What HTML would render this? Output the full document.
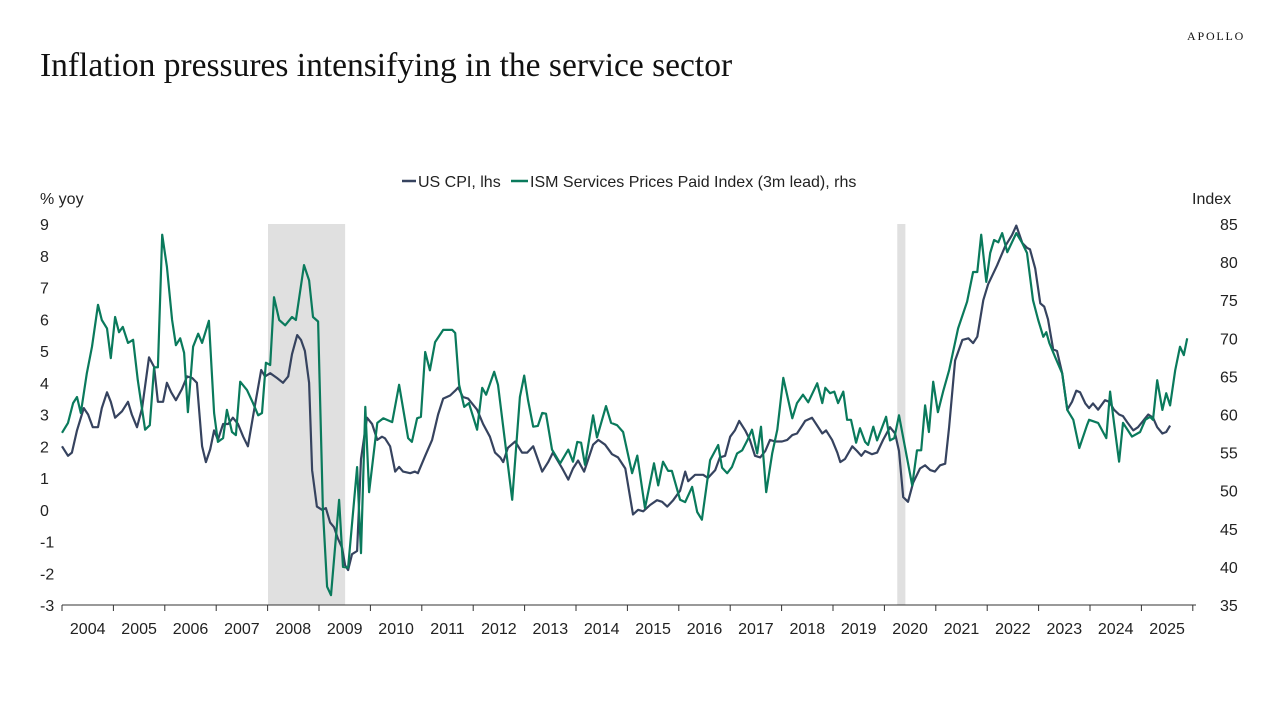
<!DOCTYPE html>
<html><head><meta charset="utf-8">
<style>
html,body{margin:0;padding:0;background:#fff;}
body{width:1280px;height:719px;overflow:hidden;position:relative;font-family:"Liberation Sans",sans-serif;}
.t{position:absolute;}
</style></head>
<body>
<div class="t" style="left:1187px;top:29px;font-family:'Liberation Serif',serif;font-size:12px;letter-spacing:1.8px;color:#111;">APOLLO</div>
<div class="t" style="left:40px;top:47px;font-family:'Liberation Serif',serif;font-size:33.5px;color:#111;">Inflation pressures intensifying in the service sector</div>
<svg id="chart" width="1280" height="719" style="position:absolute;left:0;top:0" xmlns="http://www.w3.org/2000/svg"></svg>
<script>
// months since Jan 2004
const cpiMonth=[0,1.4,2.3,3.5,5.1,6.1,7.2,8.4,9.3,10.5,11.4,12.4,14.0,15.4,16.3,17.5,18.7,20.3,21.5,22.4,23.6,24.5,25.5,26.6,28.0,29.2,30.4,31.5,32.7,33.6,34.6,35.5,36.4,37.6,38.8,39.9,41.1,42.3,43.4,44.8,46.5,47.4,48.6,50.2,51.6,52.8,53.7,54.9,55.8,56.7,57.7,58.4,59.5,60.7,61.6,62.6,63.5,64.4,65.4,66.1,66.8,67.7,68.9,69.8,71.2,72.4,73.6,74.7,75.4,76.6,77.8,78.7,79.6,81.3,82.4,83.1,84.8,86.4,87.8,89.0,90.6,91.8,92.5,93.6,94.8,96.9,98.3,99.9,101.1,102.3,103.0,104.1,105.8,107.4,108.6,110.0,112.1,113.5,114.6,116.8,118.2,119.3,120.5,121.9,124.0,125.2,126.8,128.4,129.8,131.5,133.3,134.5,135.7,137.3,138.9,140.1,141.3,142.7,144.3,145.5,146.2,147.8,149.7,150.8,152.5,153.6,154.8,156.0,157.1,158.1,159.5,160.6,161.8,163.0,164.2,165.3,166.5,168.1,169.3,170.5,171.6,172.8,173.5,175.1,176.3,177.5,178.4,179.8,181.0,181.7,182.8,184.5,185.6,186.6,187.5,189.1,190.3,191.7,193.3,194.5,195.4,196.4,197.5,198.7,200.3,201.5,202.7,203.8,205.0,206.2,207.1,208.5,210.2,211.6,212.7,213.7,215.1,216.2,218.3,220.2,221.8,222.8,224.2,225.3,226.0,227.2,228.4,229.3,230.2,231.4,232.3,233.5,234.7,235.8,236.8,237.7,238.9,239.8,240.7,241.9,243.5,244.5,245.6,246.8,247.7,248.7,250.1,251.2,252.4,253.6,254.7,255.7,256.9,257.8,258.7];
const cpiValues=[2.0,1.7,1.8,2.5,3.2,3.0,2.6,2.6,3.2,3.7,3.4,2.9,3.1,3.4,3.0,2.6,3.2,4.8,4.5,3.4,3.4,4.0,3.7,3.45,3.8,4.2,4.15,4.0,2.0,1.5,1.9,2.5,2.2,2.7,2.7,2.9,2.7,2.3,2.0,3.1,4.4,4.2,4.3,4.15,4.0,4.2,4.9,5.5,5.35,5.0,4.0,1.25,0.1,0.0,0.05,-0.4,-0.55,-0.9,-1.2,-1.75,-1.9,-1.4,-1.3,1.6,2.9,2.7,2.2,2.3,2.25,2.0,1.2,1.35,1.2,1.15,1.2,1.15,1.7,2.2,3.0,3.5,3.6,3.75,3.85,3.55,3.5,3.15,2.7,2.3,1.8,1.65,1.5,1.95,2.15,1.8,1.8,2.0,1.2,1.5,1.8,1.3,0.95,1.3,1.55,1.2,2.05,2.2,2.05,1.75,1.65,1.3,-0.15,0.0,-0.05,0.15,0.3,0.25,0.1,0.3,0.6,1.2,0.9,1.1,1.1,1.0,1.25,1.65,1.7,2.3,2.5,2.8,2.5,2.2,1.7,1.65,1.85,2.2,2.15,2.15,2.2,2.35,2.4,2.65,2.8,2.9,2.65,2.4,2.5,2.2,1.8,1.5,1.6,2.0,1.85,1.7,1.85,1.75,1.8,2.2,2.6,2.4,1.85,0.4,0.25,0.85,1.3,1.4,1.25,1.2,1.4,1.45,2.6,4.7,5.35,5.4,5.25,5.45,6.6,7.1,7.7,8.3,8.65,8.95,8.4,8.25,8.2,7.6,6.5,6.4,6.0,5.05,5.0,4.3,3.15,3.4,3.75,3.7,3.35,3.2,3.35,3.15,3.45,3.4,3.15,3.0,2.95,2.75,2.5,2.6,2.8,3.0,2.9,2.6,2.4,2.45,2.65];
const ismMonth=[0,1.4,2.6,3.5,4.4,5.8,7.0,8.4,9.3,10.5,11.4,12.4,13.3,14.2,15.4,16.6,17.7,19.4,20.5,21.5,22.4,23.4,24.5,25.7,26.6,27.6,28.5,29.4,30.6,31.8,32.7,34.3,35.5,36.4,37.6,38.5,39.7,40.6,41.6,43.2,44.6,45.8,46.7,47.6,48.6,49.5,50.7,52.1,53.7,54.6,56.5,57.7,58.6,59.8,60.9,61.9,62.8,64.7,65.6,66.8,68.9,69.8,70.8,71.7,73.6,75.0,77.1,78.7,80.8,81.7,82.9,83.8,84.8,85.9,87.1,89.0,91.1,91.8,92.7,93.9,95.0,96.9,98.1,99.0,100.9,101.8,105.1,106.9,107.9,108.8,110.0,111.1,112.1,113.0,114.4,116.3,118.2,119.3,120.3,121.2,122.1,124.0,124.9,127.0,128.2,129.6,131.0,133.1,134.3,136.1,138.2,139.2,140.3,141.5,142.4,144.3,145.5,147.1,148.3,149.4,151.3,153.2,154.1,155.3,156.4,157.6,158.8,160.0,161.1,162.3,163.2,164.4,165.8,167.0,168.4,170.5,171.6,173.0,174.2,176.3,177.5,178.2,179.3,180.3,181.2,182.4,183.3,184.2,185.4,186.3,187.5,188.2,189.4,190.3,192.4,193.3,194.3,195.4,198.5,199.6,200.6,201.5,202.4,203.4,204.5,205.7,207.1,209.2,211.3,212.7,213.7,214.6,215.8,216.7,217.6,218.6,219.5,220.7,222.8,224.2,225.3,226.7,227.9,229.1,229.8,230.5,231.9,233.5,234.7,236.1,237.5,239.3,239.8,241.9,243.8,244.7,245.6,246.8,247.7,249.8,251.7,252.9,254.0,254.7,255.7,256.9,257.8,258.7,259.9,261.0,261.9,262.7];
const ismValues=[57.6,58.9,61.5,62.3,60.2,65.4,68.9,74.4,72.4,71.3,67.4,72.8,70.8,71.5,69.4,69.8,64.5,58.0,58.6,66.2,66.2,83.6,79.4,72.4,69.1,70.0,68.1,60.3,68.9,70.6,69.4,72.3,60.2,56.4,56.9,60.6,57.7,57.3,64.3,63.2,61.5,59.9,60.2,66.8,66.5,75.4,72.4,71.7,72.8,72.4,79.6,77.6,72.8,72.2,47.5,37.4,36.3,48.8,40.0,39.9,53.1,41.8,61.0,49.8,58.9,59.5,59.0,63.9,56.9,56.4,59.5,59.7,68.2,65.8,69.5,71.1,71.1,70.7,63.9,61.0,61.5,58.0,63.5,62.6,65.6,63.9,48.8,62.3,65.1,61.9,58.4,58.5,60.2,60.1,55.4,53.6,55.4,53.8,56.4,56.3,53.4,59.9,57.0,61.1,58.9,58.6,57.7,52.3,54.6,47.7,53.6,50.7,53.8,52.6,52.6,48.8,48.5,50.5,47.2,46.2,54.0,56.0,53.0,52.3,53.1,54.9,55.3,56.6,58.0,54.9,58.4,49.8,54.9,58.0,64.8,59.5,61.5,62.6,61.6,64.1,61.5,63.5,62.8,63.0,61.5,63.0,59.3,59.3,56.3,58.2,56.4,56.0,58.4,56.6,59.7,56.6,56.9,59.9,50.7,55.3,55.3,61.2,57.7,64.3,60.3,63.0,65.8,71.3,74.8,78.7,78.7,83.6,77.4,81.2,82.9,82.6,83.8,81.3,83.8,82.5,81.2,75.0,72.4,70.2,70.8,69.4,67.5,65.4,60.6,59.3,55.6,58.6,59.3,58.9,56.9,63.0,58.9,53.8,58.9,57.1,57.7,59.3,59.7,59.3,64.5,60.6,62.8,61.2,65.8,68.9,67.8,70.0];
const yearLabels=["2004","2005","2006","2007","2008","2009","2010","2011","2012","2013","2014","2015","2016","2017","2018","2019","2020","2021","2022","2023","2024","2025"];
const leftTicks=[9,8,7,6,5,4,3,2,1,0,-1,-2,-3];
const rightTicks=[85,80,75,70,65,60,55,50,45,40,35];
const recessions=[[48.1,66.1],[195.0,196.9]];

const svg=document.getElementById('chart');
const NS='http://www.w3.org/2000/svg';
const X0=62,PXY=51.4,TOP=224,BOT=605;
function xM(m){return X0+m/12*PXY;}
function yL(v){return TOP+(9-v)/12*(BOT-TOP);}
function yR(v){return TOP+(85-v)/50*(BOT-TOP);}
function mk(tag,attrs){const e=document.createElementNS(NS,tag);for(const k in attrs)e.setAttribute(k,attrs[k]);svg.appendChild(e);return e;}
function txt(x,y,s,anchor){const e=mk('text',{x:x,y:y,'font-family':'Liberation Sans, sans-serif','font-size':16,fill:'#222','text-anchor':anchor||'start'});e.textContent=s;return e;}

recessions.forEach(r=>{
  const e=mk('rect',{x:xM(r[0]),y:TOP,width:xM(r[1])-xM(r[0]),height:BOT-TOP,fill:'#e0e0e0'});
  
  
});
let ax=mk('line',{x1:X0,y1:BOT,x2:1196,y2:BOT,stroke:'#333','stroke-width':1});


for(let i=0;i<=yearLabels.length;i++){
  const x=X0+i*PXY;
  const t=mk('line',{x1:x,y1:BOT,x2:x,y2:BOT+6,stroke:'#333','stroke-width':1});
  
  
}
yearLabels.forEach((s,i)=>{
  const e=txt(X0+(i+0.5)*PXY,634,s,'middle');
  
  
});
leftTicks.forEach(v=>{
  const e=txt(40,yL(v)+6,String(v));
  
  
});
rightTicks.forEach(v=>{
  const e=txt(1220,yR(v)+6,String(v));
  
  
});
let lt=txt(40,204,'% yoy');


let rt=txt(1192,204,'Index');



function path(ms,vs,yf,color,name){
  let d='';
  ms.forEach((m,i)=>{d+=(i?'L':'M')+xM(m).toFixed(1)+' '+yf(vs[i]).toFixed(1);});
  const p=mk('path',{d:d,fill:'none',stroke:color,'stroke-width':2.2,'stroke-linejoin':'round'});
  
  
}
path(cpiMonth,cpiValues,yL,'#36435f','us-cpi-line');
path(ismMonth,ismValues,yR,'#0a7a5c','ism-services-line');

// legend
let l1=mk('line',{x1:402,y1:181,x2:416,y2:181,stroke:'#36435f','stroke-width':2.5});


let t1=txt(418,187,'US CPI, lhs');


let l2=mk('line',{x1:511,y1:181,x2:528,y2:181,stroke:'#0a7a5c','stroke-width':2.5});


let t2=txt(530,187,'ISM Services Prices Paid Index (3m lead), rhs');


</script>
</body></html>
